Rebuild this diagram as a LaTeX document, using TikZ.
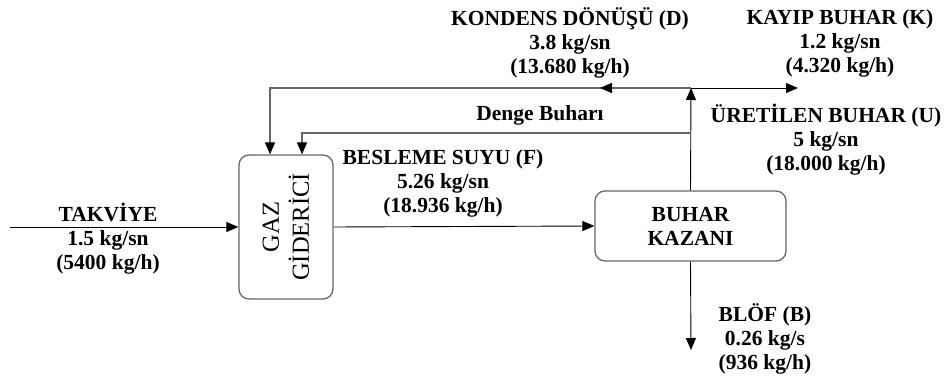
\documentclass[tikz,border=0pt]{standalone}
\usepackage{fontspec}
\setmainfont{Liberation Serif}
\usetikzlibrary{arrows.meta,positioning}
\tikzset{
  lbl/.style={font=\bfseries\fontsize{21.5}{24}\selectfont, align=center, inner sep=0pt},
  unit/.style={draw=black!60, line width=1.3pt, rounded corners=10pt},
  flow/.style={line width=0.9pt, -{Triangle[length=12pt,width=10pt]}},
  recyc/.style={draw=black!60, line width=1.6pt, -{Triangle[length=12pt,width=10pt,color=black]}},
}
\begin{document}
\begin{tikzpicture}[x=1pt,y=-1pt]
		\useasboundingbox (0,0) rectangle (946,379);
		
		% units
		\node[unit, minimum width=94pt, minimum height=144pt] (gaz) at (286,227) {};
		\node[rotate=90, align=center, inner sep=0pt, font=\fontsize{24.5}{30}\selectfont] (gaztxt) at (gaz.center) {GAZ\\GİDERİCİ};
		\node[unit, lbl, minimum width=191pt, minimum height=70pt] (kazan) at (690.5,226) {BUHAR\\KAZANI};
		
		% free ends
		\coordinate (takvin) at (10,227);
		\coordinate (junc) at (691,88);
		\coordinate (kondarr) at (600,88);
		\coordinate (kondx) at (270,88);
		\coordinate (denge) at (691,133);
		\coordinate (dengex) at (302,133);
		\coordinate (kayip) at (798,88);
		\coordinate (blof) at (691,350);
		
		% streams
		\draw[flow] (takvin) -- (gaz.west);
		\draw[flow] (gaz.east) -- (kazan.west);
		\draw[flow] (kazan.south) -- (blof);
		\draw[flow] (kazan.north) -- (junc);
		\draw[flow] (junc) -- (kayip);
		\draw[recyc] (junc) -| (gaz.north -| kondx);
		\draw[recyc] (junc) -- (kondarr);
		\draw[recyc] (denge) -| (gaz.north -| dengex);
		
		% labels
		\node[lbl] (takvlbl) at (108,212) {TAKVİYE};
		\node[lbl] (takvval) at (108,252) {1.5 kg/sn\\(5400 kg/h)};
		\node[lbl] (beslbl) at (443,183) {BESLEME SUYU (F)\\5.26 kg/sn\\(18.936 kg/h)};
		\node[lbl] (kondlbl) at (570,43) {KONDENS DÖNÜŞÜ (D)\\3.8 kg/sn\\(13.680 kg/h)};
		\node[lbl] (kayiplbl) at (840,43) {KAYIP BUHAR (K)\\1.2 kg/sn\\(4.320 kg/h)};
		\node[lbl] (uretlbl) at (826,140) {ÜRETİLEN BUHAR (U)\\5 kg/sn\\(18.000 kg/h)};
		\node[lbl] (bloflbl) at (765,339) {BLÖF (B)\\0.26 kg/s\\(936 kg/h)};
		\node[lbl] (dengelbl) at (540,115) {Denge Buharı};
\end{tikzpicture}
\end{document}
